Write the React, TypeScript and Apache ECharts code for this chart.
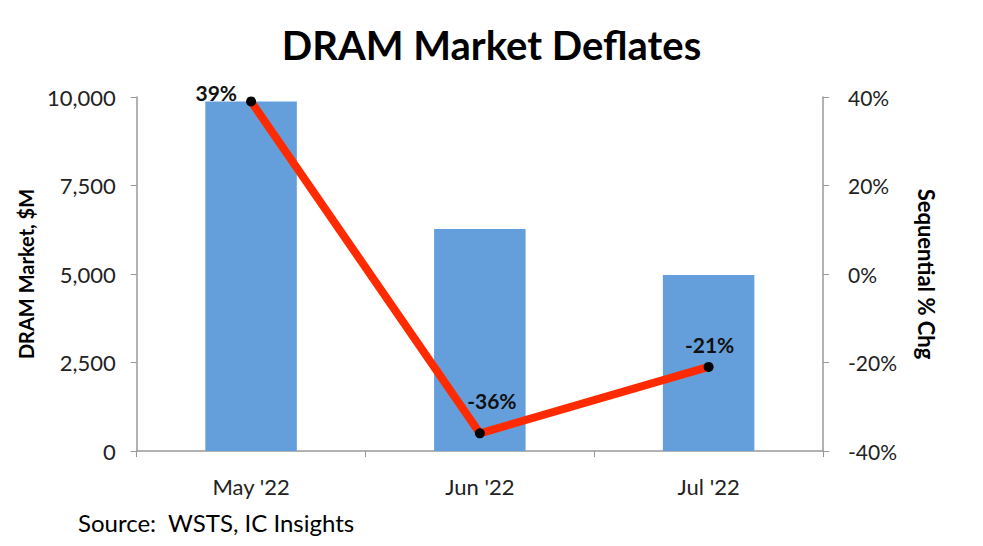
import React, { useEffect, useRef } from "react";
import * as echarts from "echarts";

const categories = ["May '22", "Jun '22", "Jul '22"];
const marketValues = [9870, 6270, 4970];
const pctChange = [39, -36, -21];
const leftTicks = [0, 2500, 5000, 7500, 10000];
const rightTicks = [-40, -20, 0, 20, 40];

const FONT = "Lato, 'Open Sans', sans-serif";

export default function App() {
  const ref = useRef<HTMLDivElement>(null);
  useEffect(() => {
    if (!ref.current) return;
    const chart = echarts.init(ref.current, undefined, { renderer: "svg" });
    const labelPos: any[] = [
      { position: "left", offset: [-4, -9] },
      { position: "top", offset: [12, -12] },
      { position: "top", offset: [1, -2] },
    ];
    chart.setOption({
      animation: false,
      backgroundColor: "#ffffff",
      textStyle: { fontFamily: FONT },
      title: {
        text: "DRAM Market Deflates",
        left: "center",
        top: 12,
        textStyle: { fontFamily: FONT, fontSize: 40, fontWeight: "bold", color: "#000" },
      },
      graphic: [
        {
          type: "text",
          left: 70,
          top: 502,
          style: { text: "Source:  WSTS, IC Insights", font: `24px ${FONT}`, fill: "#000" },
        },
      ],
      grid: { left: 123, right: 152, top: 89, bottom: 87, containLabel: false },
      xAxis: {
        type: "category",
        data: categories,
        axisLine: { lineStyle: { color: "#999", width: 1.5 } },
        axisTick: { show: true, length: 6, lineStyle: { color: "#999" }, alignWithLabel: false },
        axisLabel: { color: "#222", fontSize: 22, margin: 24, fontFamily: FONT },
      },
      yAxis: [
        {
          type: "value",
          min: leftTicks[0],
          max: leftTicks[leftTicks.length - 1],
          interval: 2500,
          name: "DRAM Market, $M",
          nameLocation: "middle",
          nameGap: 96,
          nameTextStyle: { fontSize: 20, fontWeight: "bold", color: "#000", fontFamily: FONT },
          axisLine: { show: true, lineStyle: { color: "#999", width: 1.5 } },
          axisTick: { show: true, length: 6, lineStyle: { color: "#999" } },
          splitLine: { show: false },
          axisLabel: {
            color: "#222",
            fontSize: 22,
            margin: 21,
            fontFamily: FONT,
            formatter: (v: number) => v.toLocaleString("en-US"),
          },
        },
        {
          type: "value",
          min: rightTicks[0],
          max: rightTicks[rightTicks.length - 1],
          interval: 20,
          position: "right",
          name: "Sequential % Chg",
          nameLocation: "middle",
          nameRotate: -90,
          nameGap: 92,
          nameTextStyle: { fontSize: 22, fontWeight: "bold", color: "#000", fontFamily: FONT },
          axisLine: { show: true, lineStyle: { color: "#999", width: 1.5 } },
          axisTick: { show: true, length: 6, lineStyle: { color: "#999" } },
          splitLine: { show: false },
          axisLabel: {
            color: "#222",
            fontSize: 21,
            margin: 25,
            fontFamily: FONT,
            formatter: (v: number) => `${v}%`,
          },
        },
      ],
      series: [
        {
          type: "bar",
          data: marketValues,
          yAxisIndex: 0,
          barWidth: "40%",
          itemStyle: { color: "#659FDB" },
        },
        {
          type: "line",
          yAxisIndex: 1,
          data: pctChange.map((v, i) => ({
            value: v,
            label: {
              show: true,
              ...labelPos[i],
              formatter: `${v}%`,
              fontSize: 21,
              fontWeight: "bold",
              color: "#111",
              fontFamily: FONT,
            },
          })),
          lineStyle: { color: "#FF2A00", width: 8 },
          symbol: "circle",
          symbolSize: 10,
          itemStyle: { color: "#000" },
          z: 5,
        },
      ],
    });
    return () => chart.dispose();
  }, []);
  return <div ref={ref} style={{ width: 967, height: 530 }} />;
}
